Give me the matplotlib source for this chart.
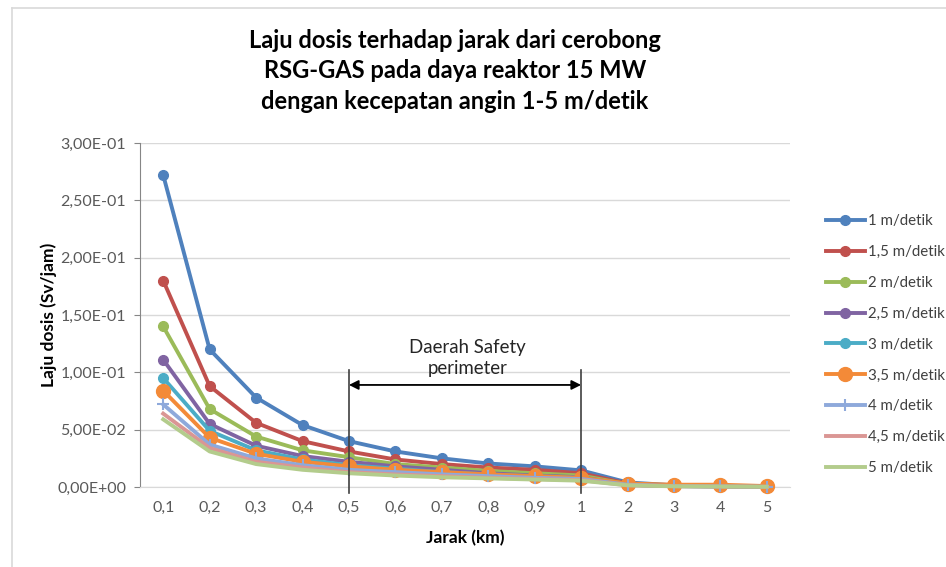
import matplotlib
matplotlib.use("Agg")
import matplotlib.pyplot as plt
from matplotlib.ticker import FuncFormatter
from matplotlib.lines import Line2D

plt.rcParams['font.family'] = ['Lato', 'DejaVu Sans']

# categories (km)
jarak = ['0,1', '0,2', '0,3', '0,4', '0,5', '0,6', '0,7', '0,8', '0,9', '1', '2', '3', '4', '5']

# dose rate (Sv/jam) per wind speed
v1 = [0.272, 0.120, 0.078, 0.054, 0.040, 0.031, 0.025, 0.0205, 0.018, 0.0145, 0.004, 0.0015, 0.001, 0.0005]
v15 = [0.180, 0.088, 0.056, 0.040, 0.031, 0.024, 0.020, 0.017, 0.015, 0.012, 0.003, 0.0012, 0.0008, 0.0004]
v2 = [0.140, 0.068, 0.044, 0.032, 0.026, 0.020, 0.017, 0.014, 0.012, 0.010, 0.0025, 0.001, 0.0007, 0.0003]
v25 = [0.111, 0.055, 0.036, 0.027, 0.022, 0.018, 0.015, 0.012, 0.010, 0.0085, 0.002, 0.0009, 0.0006, 0.0003]
v3 = [0.095, 0.049, 0.032, 0.024, 0.019, 0.016, 0.013, 0.011, 0.0095, 0.008, 0.002, 0.0008, 0.0005, 0.0002]
v35 = [0.084, 0.043, 0.029, 0.022, 0.018, 0.015, 0.013, 0.011, 0.0095, 0.008, 0.003, 0.002, 0.002, 0.0008]
v4 = [0.072, 0.037, 0.025, 0.019, 0.015, 0.013, 0.011, 0.0095, 0.008, 0.007, 0.002, 0.0008, 0.0005, 0.0002]
v45 = [0.064, 0.034, 0.022, 0.017, 0.013, 0.011, 0.0095, 0.008, 0.007, 0.006, 0.0015, 0.0007, 0.0004, 0.0002]
v5 = [0.059, 0.031, 0.020, 0.015, 0.012, 0.010, 0.0085, 0.0075, 0.0065, 0.0055, 0.0015, 0.0006, 0.0004, 0.0002]

labels = ['1 m/detik', '1,5 m/detik', '2 m/detik', '2,5 m/detik', '3 m/detik',
          '3,5 m/detik', '4 m/detik', '4,5 m/detik', '5 m/detik']
series = [v1, v15, v2, v25, v3, v35, v4, v45, v5]
colors = ['#4F81BD', '#C0504D', '#9BBB59', '#8064A2', '#4BACC6',
          '#F38A38', '#8EA9DB', '#DA9694', '#B3CC8C']
markers = ['o', 'o', 'o', 'o', 'o', 'o', '+', '', '']
msizes = [7, 7, 7, 7, 7, 10, 8, 0, 0]

fig = plt.figure(figsize=(9.46, 5.67), dpi=100)
ax = fig.add_axes([140 / 946, 1 - 487 / 567, 650 / 946, 344 / 567])

x = list(range(len(jarak)))
for i, (vals, lab) in enumerate(zip(series, labels)):
    ax.plot(x, vals, color=colors[i], lw=2.8, marker=markers[i] or None,
            markersize=msizes[i], markeredgewidth=1.5 if markers[i] == '+' else 1,
            label=lab, zorder=3 + i, clip_on=False)

ax.set_xlim(-0.5, len(jarak) - 0.5)
ax.set_ylim(0, 0.3)
ax.set_yticks([0, 0.05, 0.10, 0.15, 0.20, 0.25, 0.30])
ax.yaxis.set_major_formatter(FuncFormatter(lambda v, p: f"{v:.2E}".replace('.', ',')))
ax.set_xticks(x)
ax.set_xticklabels(jarak)
ax.tick_params(axis='x', length=0, pad=10, labelsize=11.5, labelcolor='#595959')
ax.tick_params(axis='y', length=4, color='#868686', pad=6, labelsize=11.5, labelcolor='#595959')
ax.grid(axis='y', color='#d9d9d9', lw=1)
ax.set_axisbelow(True)
for s in ['top', 'right']:
    ax.spines[s].set_visible(False)
ax.spines['left'].set_color('#868686')
ax.spines['bottom'].set_color('#d9d9d9')

ax.set_xlabel('Jarak (km)', fontsize=12.5, fontweight='bold', labelpad=11)
ax.set_ylabel('Laju dosis (Sv/jam)', fontsize=12.5, fontweight='bold', labelpad=0)

# safety perimeter annotation
for xv in [4, 9]:
    ax.plot([xv, xv], [-0.005, 0.102], color='#404040', lw=1.2, zorder=20, clip_on=False)
ax.annotate('', xy=(4, 0.089), xytext=(9, 0.089),
            arrowprops=dict(arrowstyle='<|-|>', color='black', lw=1.3, mutation_scale=14,
                            shrinkA=0, shrinkB=0), zorder=21)
ax.text(6.55, 0.1125, 'Daerah Safety\nperimeter', ha='center', va='center',
        fontsize=13.4, color='#262626', linespacing=1.35, zorder=21)

fig.text(0.481, 1 - 71 / 567,
         'Laju dosis terhadap jarak dari cerobong\nRSG-GAS pada daya reaktor 15 MW\ndengan kecepatan angin 1-5 m/detik',
         ha='center', va='center', fontsize=17, fontweight='bold', linespacing=1.4)

ax.legend(loc='upper left', bbox_to_anchor=(812 / 946, 1 - 201 / 567),
          bbox_transform=fig.transFigure, frameon=False, fontsize=10.8,
          handlelength=2.6, handletextpad=0.2, labelspacing=1.12, labelcolor='#404040')

# chart border
fig.add_artist(Line2D([12 / 946, 12 / 946], [0, 1 - 8 / 567], color='#d9d9d9', lw=1.2))
fig.add_artist(Line2D([12 / 946, 1], [1 - 8 / 567, 1 - 8 / 567], color='#d9d9d9', lw=1.2))

fig.savefig('out.png', dpi=100)
